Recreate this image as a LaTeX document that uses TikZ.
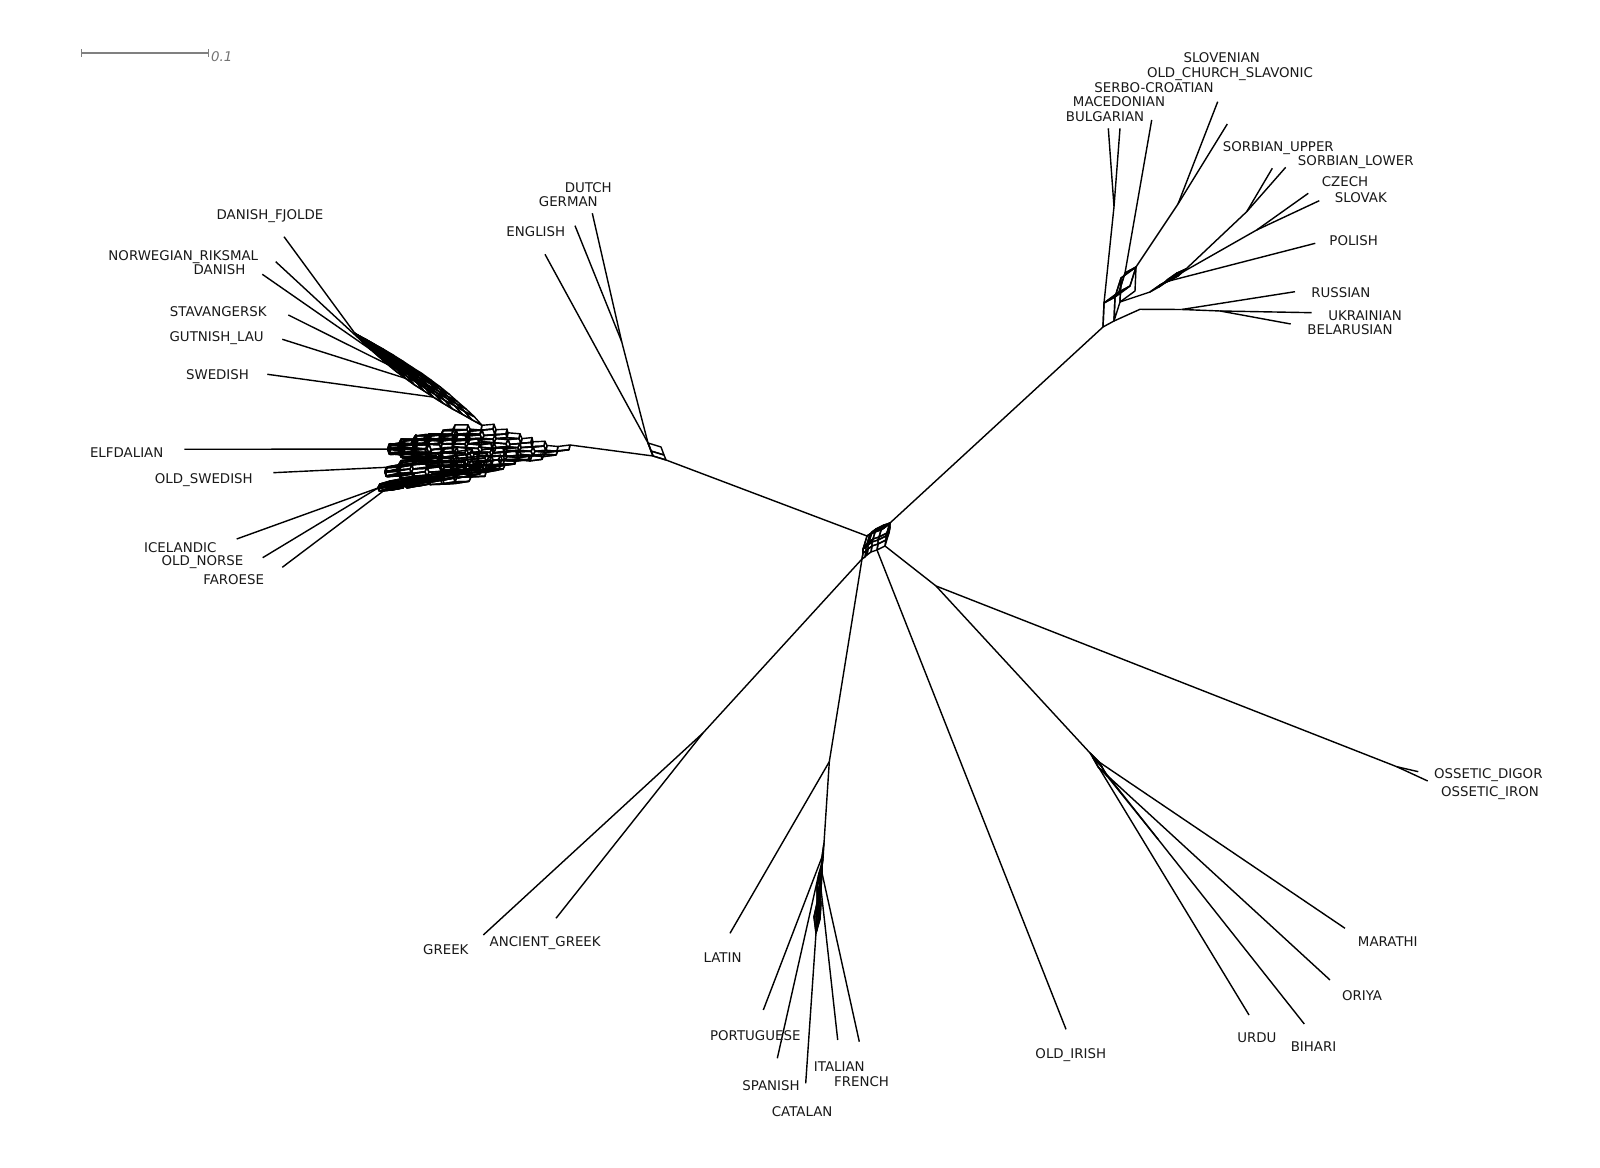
\documentclass[tikz,border=0pt]{standalone}
\usepackage{fontspec}
\setmainfont{DejaVu Sans}
\usetikzlibrary{calc}

\tikzset{
  taxon/.style={font=\fontsize{3.8}{4.6}\selectfont,inner sep=0pt,anchor=base,text=black!90},
  scalebar/.style={draw=black!50,line width=0.45pt},
}

% splits graph: prefix, origin, list of split vectors dx/dy
\newcommand{\splitnet}[3]{%
  \coordinate (#1P0) at #2;
  \foreach \vx/\vy [count=\k] in {#3}{
    \coordinate (#1v\k) at (\vx,\vy);
    \xdef\splitn{\k}}
  \foreach \k [remember=\k as \km (initially 0)] in {1,...,\splitn}
    \coordinate (#1P\k) at ($(#1P\km)+(#1v\k)$);
  \coordinate (#1T\splitn) at (0,0);
  \foreach \kk in {1,...,\splitn}{
    \pgfmathtruncatemacro\k{\splitn+1-\kk}
    \pgfmathtruncatemacro\km{\k-1}
    \coordinate (#1T\km) at ($(#1T\k)+(#1v\k)$);
    \coordinate (#1U\kk) at ($(#1P0)+(#1T\km)$);}
  \foreach \i in {1,...,\splitn}{
    \pgfmathtruncatemacro\ia{\i-1}
    \pgfmathtruncatemacro\ib{\i+1}
    \ifnum\ib>\splitn\else
      \foreach \j in {\ib,...,\splitn}
        \draw ($(#1P\ia)+(#1T\j)$) -- ($(#1P\ia)+(#1T\j)+(#1v\i)$)
          -- ($(#1P\ia)+(#1T\j)+(#1v\i)+(#1v\j)$) -- ($(#1P\ia)+(#1T\j)+(#1v\j)$) -- cycle;
    \fi}
  \foreach \k [remember=\k as \km (initially 0)] in {1,...,\splitn}
    \draw (#1P\km) -- (#1P\k);
}

\begin{document}
\begin{tikzpicture}[x=0.01cm,y=-0.01cm,line width=0.4pt,line join=round]
  \path[fill=white] (0,0) rectangle (1600,1168);
  \useasboundingbox (0,0) rectangle (1600,1168);

  % scale
  \draw[scalebar] (81.7,53.3) -- (208.3,53.3) (81.7,49.5) -- (81.7,57) (208.3,49.5) -- (208.3,57);
  \node[taxon,anchor=base west,text=black!55,font=\fontsize{3.8}{4.6}\selectfont\itshape] (scale) at (210.5,61.5) {0.1};

  % boxes of the network
  \splitnet{m}{(570,445)}{-1/4.8,-11/1,-2/4.2,-12/-1,-2/5.4,-1/-4.8,-11/1.5,-2/3.6,-12/-0.5,-1/4.8,
    -10/1,-2/4.2,-13/0,-2/-4.2,-11/-1,-1/4.8,-12/1,-2/-5.4,-11/0.5,-1/-3.6,
    -12/-1,-2/-4.8,-10/1,-1/-4.2,-12/0.5,-2/-4.2,-11/-1,-12/1.5}
  \splitnet{k}{(mP9)}{-2/4.5,-13/1.4,-3/5,-12/2.2,-1/4,-14/0.6,-2/4.5,-13/2,-12/0.8,
    -1/-4.5,-14/1.8,-2/-5,-13/1,-1.5/-4,-12/2.4,-1.5/-4.5,-14/0.4}
  \splitnet{l}{(mP11)}{-10/2,-2/3,-11/1,-2/3,-10/2,-1/-3,-12/1,-2/4,-11/2,-2/-3,
    -10/3,-2/4,-11/2,-2/-3,-12/1,-2/4,-11/1,-2/-3,-10/2,-2/0}
  \splitnet{a}{(mU12)}{-9.9/-5.4,-9.8/-5.6,-9.9/-5.4,-9.6/-5.8,-9.5/-6,-9.3/-6.2,-9.5/-6,
    -9.1/-6.6,-9/-6.7,-8.7/-7.1,-8.4/-7.5,-8.5/-7.3,-8.2/-7.7,-7.6/-8.5}
  \splitnet{g}{(666,460)}{-13/-4,-3/-8,-2/-5}
  \splitnet{h}{(862,559)}{1/-6,0/-4,1/-3,3/-10,8/-4,6/-2,4/-3,2/-2,3/-2}
  \splitnet{s}{(1103,327)}{1/-24,15/-11,6/-19,11/-6}
  \splitnet{w}{(1150,292)}{10/-7,9/-4,8/-7,9/-5}
  \splitnet{r}{(824,843)}{-2/14,0/16,-3/14,2/16,-4/14,-1/16}
  \splitnet{ia}{(1090,753)}{9/9,5/9,3/5}

  % inner nodes
  \coordinate (nGD) at (621.7,341.7);
  \coordinate (nGk) at (703,733);
  \coordinate (nLat) at (829.3,761.7);
  \coordinate (nII) at (936,586);
  \coordinate (nOss) at (1396.7,766.7);
  \coordinate (nBM) at (1114,206.7);
  \coordinate (nSO) at (1178,204);
  \coordinate (nES) at (1140,309.3);
  \coordinate (nRu) at (1181.7,309.5);
  \coordinate (nUB) at (1220,311);
  \coordinate (nCS) at (1256.7,230);
  \coordinate (nSorb) at (1246.7,211.7);

  % leaf ends
  \foreach \nm/\x/\y in {DanishFjolde/284/236.7,Norwegian/275.7/261.7,Danish/262.3/274.3,
      Stavangersk/288.3/315,Gutnish/282.3/339.3,Swedish/267.3/374.3,Elfdalian/184.3/449.3,
      OldSwedish/273.3/472.7,Icelandic/236.7/539,OldNorse/262.7/557.7,Faroese/282.3/567.3,
      Dutch/592.3/213.3,German/575/225.7,English/545/254.3,
      Slovenian/1217.7/101.7,OCS/1227.3/124,Serbo/1151.7/120,Macedonian/1120/128.3,
      Bulgarian/1108.3/128.3,SorbU/1272.3/168.3,SorbL/1285.7/167.3,Czech/1308.3/193.3,
      Slovak/1319.3/200.7,Polish/1315.3/243.3,Russian/1295/291.7,Ukrainian/1311.7/312.7,
      Belarusian/1290.7/324,Latin/730/933.3,Portuguese/763.3/1010,Spanish/777.3/1058.3,
      Catalan/805.7/1083.3,Italian/837.7/1040,French/859.3/1041.7,Greek/483.3/935,
      AncientGreek/556/918.3,OldIrish/1066/1029.3,Marathi/1345/928.3,Oriya/1330/980,
      Bihari/1304.3/1024,Urdu/1249/1015,Digor/1418.3/771.7,Iron/1427.7/781}
    \coordinate (t\nm) at (\x,\y);
  \coordinate (nBi) at ($(iaP2)!0.27!(tBihari)$);

  % branches
  \foreach \a/\b in {mP0/gP1,hP4/gP0,gP3/tEnglish,gP3/nGD,nGD/tGerman,nGD/tDutch,
      aP14/tDanishFjolde,aP13/tNorwegian,aP12/tDanish,aP10/tStavangersk,aP8/tGutnish,aP5/tSwedish,
      mP28/tElfdalian,kU16/tOldSwedish,lP20/tIcelandic,lP20/tOldNorse,lP18/tFaroese,
      hP9/sP0,sP1/nBM,nBM/tBulgarian,nBM/tMacedonian,sP3/tSerbo,sP4/nSO,nSO/tSlovenian,nSO/tOCS,
      sU1/nES,nES/nRu,nRu/tRussian,nRu/nUB,nUB/tUkrainian,nUB/tBelarusian,
      sU2/wP0,wP1/nCS,nCS/tCzech,nCS/tSlovak,wP2/tPolish,wP4/nSorb,nSorb/tSorbU,nSorb/tSorbL,
      hU5/nII,nII/nOss,nOss/tDigor,nOss/tIron,nII/iaP0,iaP1/tMarathi,iaU2/tOriya,
      iaP2/tBihari,iaU1/tUrdu,iaP3/nBi,hU4/tOldIrish,
      hP0/nGk,nGk/tGreek,nGk/tAncientGreek,hP0/nLat,nLat/tLatin,nLat/rP0,
      rP1/tPortuguese,rU2/tSpanish,rP2/tFrench,rU3/tItalian,rP6/tCatalan}
    \draw (\a) -- (\b);

  % taxa
  \foreach \nm/\x/\y/\txt in {DanishFjolde/270/219.5/DANISH\_FJOLDE,Norwegian/183.3/261/NORWEGIAN\_RIKSMAL,
      Danish/219.5/274.5/DANISH,Stavangersk/218.3/316.5/STAVANGERSK,Gutnish/216.7/341.7/GUTNISH\_LAU,
      Swedish/217.5/380/SWEDISH,Elfdalian/126.7/458/ELFDALIAN,OldSwedish/203.8/483.7/OLD\_SWEDISH,
      Icelandic/180.3/553/ICELANDIC,OldNorse/202.5/565.5/OLD\_NORSE,Faroese/233.7/584.5/FAROESE,
      Dutch/588.3/193/DUTCH,German/568.3/206.5/GERMAN,English/535.8/236.5/ENGLISH,
      Slovenian/1221.7/63/SLOVENIAN,OCS/1230/77.3/OLD\_CHURCH\_SLAVONIC,Serbo/1154/93/SERBO-CROATIAN,
      Macedonian/1119/106.5/MACEDONIAN,Bulgarian/1105/121.5/BULGARIAN,SorbU/1278.3/152/SORBIAN\_UPPER,
      SorbL/1355.8/165.5/SORBIAN\_LOWER,Czech/1345/186.5/CZECH,Slovak/1360.8/202.5/SLOVAK,
      Polish/1353.7/246/POLISH,Russian/1340.8/298/RUSSIAN,Ukrainian/1365/321/UKRAINIAN,
      Belarusian/1350/335/BELARUSIAN,Latin/722.5/963/LATIN,Portuguese/755.3/1041/PORTUGUESE,
      Italian/839.3/1072/ITALIAN,Spanish/771/1090.5/SPANISH,French/861.5/1087/FRENCH,
      Catalan/802.2/1116.5/CATALAN,Greek/445.8/955/GREEK,AncientGreek/545.2/946.5/ANCIENT\_GREEK,
      OldIrish/1070.8/1059/OLD\_IRISH,Marathi/1387.8/946.5/MARATHI,Oriya/1362/1000.5/ORIYA,
      Urdu/1256.8/1043/URDU,Bihari/1313.5/1051.5/BIHARI,Digor/1488.3/778.5/OSSETIC\_DIGOR,
      Iron/1490/796.5/OSSETIC\_IRON}
    \node[taxon] (lab\nm) at (\x,\y) {\txt};
\end{tikzpicture}
\end{document}
